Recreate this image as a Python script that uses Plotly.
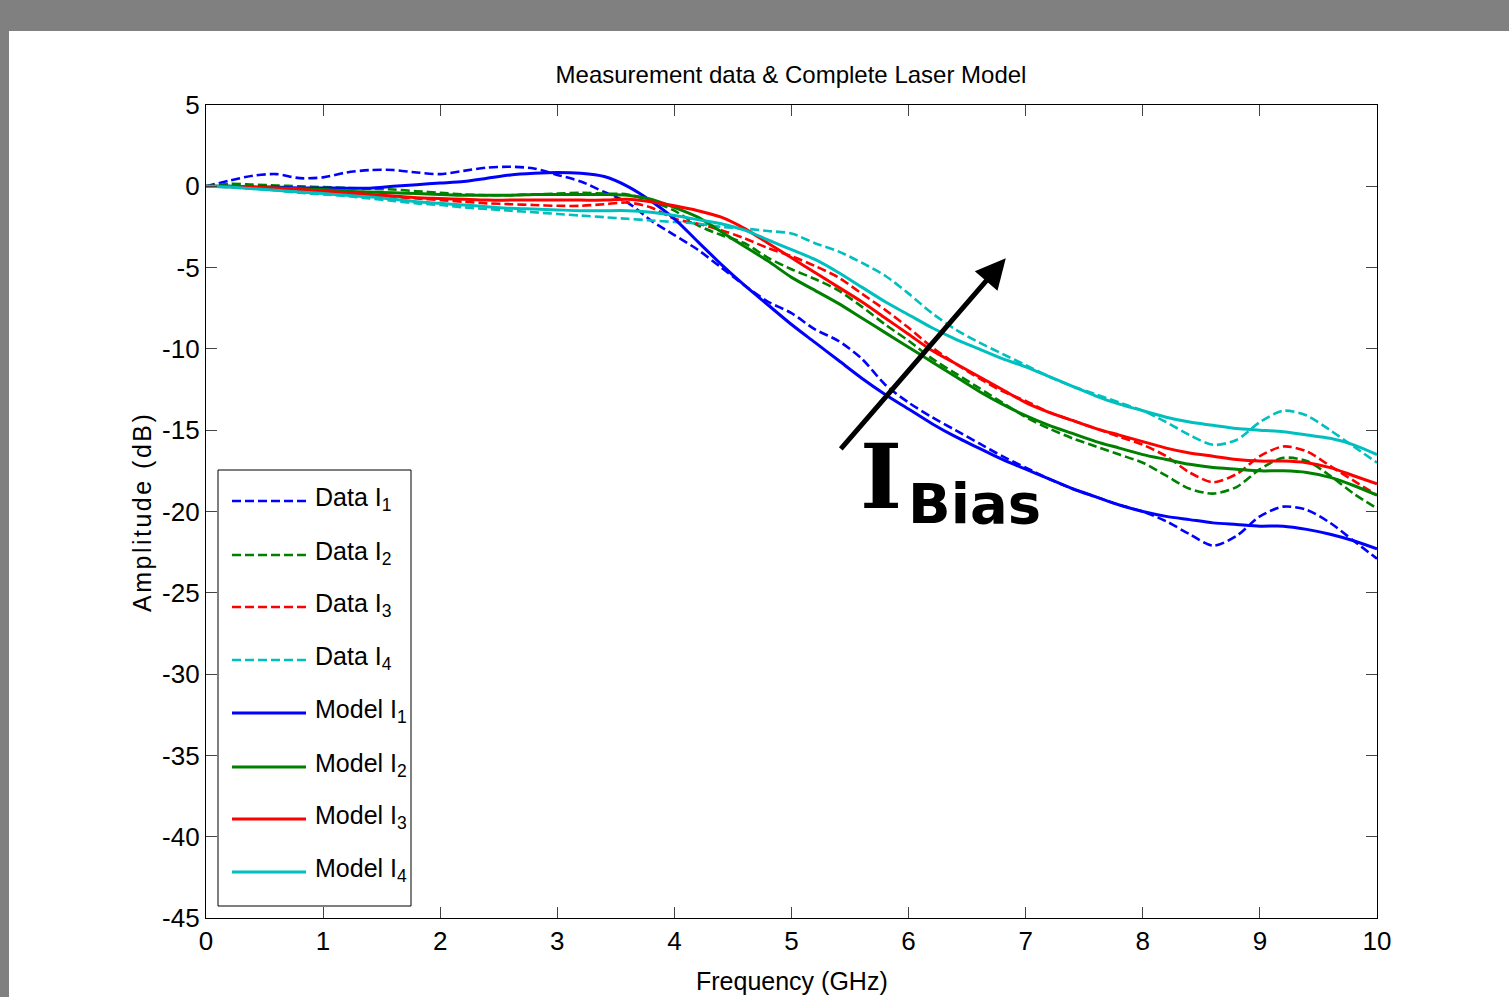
import plotly.graph_objects as go

freq = [round(0.2 * i, 1) for i in range(51)]

data_i1 = [0, 0.35, 0.65, 0.75, 0.5, 0.55, 0.85, 1.0, 1.0, 0.85, 0.75, 0.95, 1.15, 1.2, 1.1,
           0.7, 0.3, -0.35, -1.0, -2.1, -3.0, -3.9, -5.0, -6.1, -7.1, -7.8, -8.8, -9.5, -10.6,
           -12.2, -13.3, -14.2, -15.0, -15.8, -16.6, -17.3, -18.0, -18.6, -19.1, -19.6, -20.0,
           -20.6, -21.4, -22.1, -21.5, -20.3, -19.7, -19.9, -20.7, -21.8, -22.9]
data_i2 = [0, 0.15, 0.1, 0.05, 0.0, -0.05, -0.1, -0.15, -0.2, -0.3, -0.4, -0.5, -0.55, -0.55,
           -0.5, -0.45, -0.4, -0.45, -0.5, -0.9, -1.5, -2.4, -3.0, -3.5, -4.4, -5.1, -5.7, -6.4,
           -7.4, -8.5, -9.5, -10.6, -11.5, -12.4, -13.3, -14.2, -14.9, -15.5, -16.0, -16.5, -17.0,
           -17.8, -18.6, -18.9, -18.5, -17.4, -16.7, -16.9, -17.8, -18.9, -19.8]
data_i3 = [0, -0.02, -0.05, -0.1, -0.2, -0.3, -0.45, -0.55, -0.65, -0.75, -0.85, -0.95, -1.05,
           -1.1, -1.15, -1.2, -1.2, -1.1, -1.0, -1.3, -2.0, -2.3, -2.7, -3.2, -3.8, -4.3, -4.9,
           -5.6, -6.6, -7.6, -8.7, -9.9, -10.9, -11.8, -12.6, -13.2, -13.9, -14.4, -14.9, -15.4,
           -15.9, -16.6, -17.6, -18.2, -17.7, -16.6, -16.0, -16.3, -17.2, -18.1, -19.0]
data_i4 = [0, -0.05, -0.15, -0.25, -0.4, -0.5, -0.6, -0.75, -0.9, -1.05, -1.15, -1.3, -1.4,
           -1.5, -1.6, -1.7, -1.8, -1.9, -2.0, -2.1, -2.2, -2.3, -2.5, -2.6, -2.75, -2.9, -3.5,
           -4.0, -4.7, -5.5, -6.6, -7.8, -8.8, -9.6, -10.3, -11.0, -11.7, -12.3, -12.8, -13.3,
           -13.8, -14.5, -15.3, -15.9, -15.6, -14.5, -13.8, -14.1, -15.0, -16.0, -17.0]

model_i1 = [0, 0, -0.05, -0.05, -0.1, -0.1, -0.12, -0.12, 0.0, 0.1, 0.2, 0.3, 0.5, 0.7, 0.8,
            0.85, 0.8, 0.6, 0.0, -0.9, -2.0, -3.4, -4.8, -6.1, -7.3, -8.5, -9.6, -10.7, -11.8,
            -12.8, -13.7, -14.6, -15.4, -16.1, -16.8, -17.4, -18.0, -18.6, -19.1, -19.6, -20.0,
            -20.3, -20.5, -20.7, -20.8, -20.9, -20.9, -21.1, -21.4, -21.8, -22.3]
model_i2 = [0, 0, -0.05, -0.1, -0.15, -0.2, -0.3, -0.35, -0.4, -0.45, -0.5, -0.55, -0.55,
            -0.55, -0.5, -0.5, -0.5, -0.5, -0.55, -0.8, -1.3, -1.9, -2.8, -3.7, -4.6, -5.6, -6.4,
            -7.2, -8.1, -9.0, -9.9, -10.8, -11.7, -12.6, -13.4, -14.1, -14.7, -15.2, -15.7,
            -16.1, -16.5, -16.8, -17.1, -17.3, -17.4, -17.5, -17.5, -17.6, -17.9, -18.4, -19.0]
model_i3 = [0, -0.02, -0.05, -0.1, -0.2, -0.3, -0.4, -0.5, -0.6, -0.7, -0.75, -0.8, -0.85,
            -0.85, -0.85, -0.85, -0.85, -0.85, -0.8, -0.95, -1.2, -1.5, -1.9, -2.6, -3.5, -4.4,
            -5.3, -6.2, -7.1, -8.1, -9.1, -10.1, -10.9, -11.7, -12.5, -13.3, -13.9, -14.4, -14.9,
            -15.3, -15.7, -16.1, -16.4, -16.6, -16.8, -16.9, -16.9, -17.0, -17.3, -17.8, -18.3]
model_i4 = [0, -0.05, -0.15, -0.25, -0.35, -0.45, -0.55, -0.65, -0.8, -0.95, -1.05, -1.15,
            -1.25, -1.35, -1.4, -1.45, -1.5, -1.5, -1.5, -1.6, -1.8, -2.05, -2.3, -2.7, -3.3,
            -3.9, -4.5, -5.3, -6.2, -7.1, -7.9, -8.7, -9.4, -10.0, -10.6, -11.1, -11.7, -12.3,
            -12.9, -13.4, -13.8, -14.2, -14.5, -14.7, -14.9, -15.0, -15.1, -15.3, -15.5, -15.9,
            -16.5]

series_names = ["Data I<sub>1</sub>", "Data I<sub>2</sub>", "Data I<sub>3</sub>", "Data I<sub>4</sub>",
                "Model I<sub>1</sub>", "Model I<sub>2</sub>", "Model I<sub>3</sub>", "Model I<sub>4</sub>"]
series_values = [data_i1, data_i2, data_i3, data_i4, model_i1, model_i2, model_i3, model_i4]
series_colors = ["#0000ff", "#008000", "#ff0000", "#00bfbf"] * 2

x_ticks = list(range(0, 11))
x_tick_labels = [str(v) for v in x_ticks]
y_ticks = list(range(-45, 6, 5))
y_tick_labels = [str(v) for v in y_ticks]

FONT = "Liberation Sans, Arial, sans-serif"
DATA_DASH = "9px,4px"

W, H = 1509, 997
L, R, T, B = 206, 132, 105, 79
pw, ph = W - L - R, H - T - B


def px(xp):
    return (xp - L) / pw


def py(yp):
    return (H - B - yp) / ph


fig = go.Figure()
for i, (name, vals, col) in enumerate(zip(series_names, series_values, series_colors)):
    dashed = i < 4
    fig.add_trace(go.Scatter(
        x=freq, y=vals, mode="lines", name=name, showlegend=False,
        line=dict(color=col, width=2.6 if dashed else 3, dash=DATA_DASH if dashed else "solid",
                  shape="spline", smoothing=0.8),
    ))

fig.update_layout(
    width=W, height=H,
    margin=dict(l=L, r=R, t=T, b=B),
    paper_bgcolor="white", plot_bgcolor="white",
    font=dict(family=FONT, size=26, color="black"),
    title=dict(text="Measurement data & Complete Laser Model", x=px(791), xref="paper",
               y=1 - 75 / H, yref="container", xanchor="center", yanchor="middle",
               font=dict(family=FONT, size=24, color="black")),
    showlegend=False,
    xaxis=dict(range=[0, 10], tickvals=x_ticks, ticktext=x_tick_labels,
               ticks="inside", ticklen=11, tickwidth=1, tickcolor="#444",
               showline=True, linecolor="black", linewidth=1.2, mirror="ticks",
               showgrid=False, zeroline=False,
               tickfont=dict(family=FONT, size=26, color="black")),
    yaxis=dict(range=[-45, 5], tickvals=y_ticks, ticktext=y_tick_labels,
               ticks="inside", ticklen=11, tickwidth=1, tickcolor="#444",
               showline=True, linecolor="black", linewidth=1.2, mirror="ticks",
               showgrid=False, zeroline=False,
               tickfont=dict(family=FONT, size=26, color="black")),
)

fig.add_annotation(text="Frequency (GHz)", x=0.5, y=py(981), xref="paper", yref="paper",
                   xanchor="center", yanchor="middle", showarrow=False,
                   font=dict(family=FONT, size=25, color="black"))
fig.add_annotation(text="<span style='letter-spacing:2.5px'>Amplitude (dB)</span>",
                   x=px(142), y=py(512), xref="paper", yref="paper",
                   xanchor="center", yanchor="middle", showarrow=False, textangle=-90,
                   font=dict(family=FONT, size=25, color="black"))

# legend (box, line samples, labels)
leg_rows = [501, 555, 607, 660, 713, 767, 819, 872]
fig.add_shape(type="rect", xref="paper", yref="paper", x0=px(218), x1=px(411), y0=py(906), y1=py(470),
              fillcolor="white", line=dict(color="black", width=1), layer="above")
for i, (name, col, yr) in enumerate(zip(series_names, series_colors, leg_rows)):
    dashed = i < 4
    fig.add_shape(type="line", xref="paper", yref="paper", x0=px(232), x1=px(306), y0=py(yr), y1=py(yr),
                  line=dict(color=col, width=2.6 if dashed else 3, dash=DATA_DASH if dashed else "solid"),
                  layer="above")
    fig.add_annotation(text=name, x=px(313), y=py(yr - 2), xref="paper", yref="paper",
                       xanchor="left", yanchor="middle", showarrow=False,
                       font=dict(family=FONT, size=25, color="black"))

# arrow and I_Bias label
fig.add_annotation(x=6.83, y=-4.43, ax=5.41, ay=-16.24, xref="x", yref="y",
                   axref="x", ayref="y", text="", showarrow=True, arrowhead=2,
                   arrowsize=1.2, arrowwidth=5, arrowcolor="black")
fig.add_annotation(text="<b>I</b>", x=5.76, y=-17.8, xref="x", yref="y", showarrow=False,
                   xanchor="center", yanchor="middle",
                   font=dict(family="DejaVu Serif", size=90, color="black"))
fig.add_annotation(text="<b>Bias</b>", x=6.56, y=-19.5, xref="x", yref="y", showarrow=False,
                   xanchor="center", yanchor="middle",
                   font=dict(family="DejaVu Sans", size=56, color="black"))

# gray frame around page
fig.add_shape(type="rect", xref="paper", yref="paper", x0=px(-5), x1=px(W + 5), y0=py(31), y1=py(-5),
              fillcolor="#808080", line=dict(width=0), layer="above")
fig.add_shape(type="rect", xref="paper", yref="paper", x0=px(-5), x1=px(9), y0=py(H + 5), y1=py(31),
              fillcolor="#808080", line=dict(width=0), layer="above")

fig.write_html("out.html", config={"displayModeBar": False},
               post_script="document.body.style.margin='0px';")
